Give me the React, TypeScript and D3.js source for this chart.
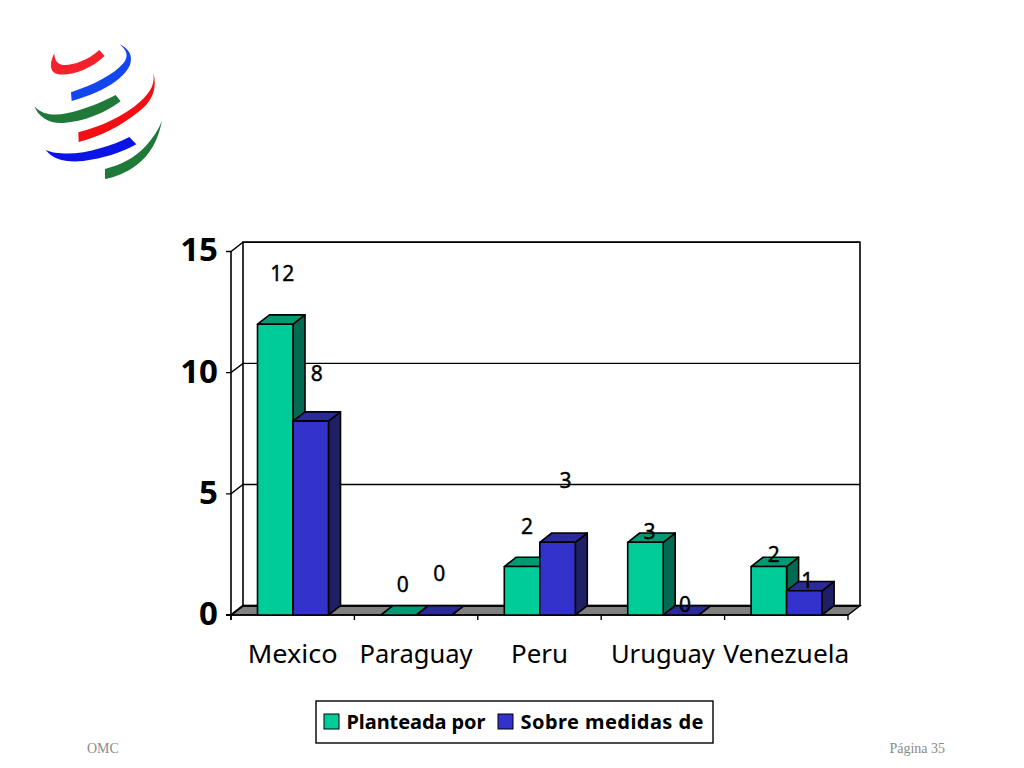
import { useEffect, useRef } from 'react';
import * as d3 from 'd3';

const countries = ['Mexico', 'Paraguay', 'Peru', 'Uruguay', 'Venezuela'];
const seriesNames = ['Planteada por', 'Sobre medidas de'];
const planteada = [12, 0, 2, 3, 2];
const sobreMedidas = [8, 0, 3, 0, 1];
const yTicks = [0, 5, 10, 15];

// hand placed labels in the original, offset from the top of each bar
const labelNudgeX = [[7, 6], [4, 5], [5, 8], [4, 4], [5, 3]];
const labelNudgeY = [[-51, -48], [-31, -42], [-40, -62], [-11, -11], [-12, -10]];
// the fallback font runs narrower than the original, so stretch to fit
const countryLabelWidths = [90, 113, 57, 104, 126];

const seriesStyle = [
  { front: '#00CC99', top: '#009973', side: '#006B50' },
  { front: '#3333CC', top: '#2A2A99', side: '#1F1F66' },
];

// logo crescents, traced in a 160x160 box scaled 3x
const logo = [
  { fill: '#F5222D', d: 'M103,70 C90,95 88,120 105,130 C135,142 205,125 254,78 L238,60 C200,95 150,108 125,104 C108,100 103,85 103,70Z' },
  { fill: '#1446F0', d: 'M298,42 C325,55 340,75 330,105 C310,150 240,190 155,213 L153,187 C220,165 280,135 310,100 C328,78 320,60 298,42Z' },
  { fill: '#1F7A3A', d: 'M43,228 C65,255 105,258 140,250 C195,238 250,215 287,195 L302,214 C255,250 190,275 130,279 C90,282 55,262 43,228Z' },
  { fill: '#F20F14', d: 'M400,127 C412,175 400,215 350,250 C300,290 240,320 176,336 L175,307 C240,290 310,260 360,215 C395,185 405,160 400,127Z' },
  { fill: '#0A14E6', d: 'M77,360 C110,375 180,375 240,355 C275,345 305,333 328,321 L349,343 C300,370 250,385 190,393 C140,398 100,390 77,360Z' },
  { fill: '#1F7A3A', d: 'M426,272 C415,330 390,375 350,405 C320,428 285,442 255,447 L255,417 C300,405 345,385 380,345 C400,322 415,300 426,272Z' },
];

const font = '"Comic Sans MS", "Noto Sans", sans-serif';

export default function App() {
  const svgRef = useRef<SVGSVGElement>(null);

  useEffect(() => {
    if (!svgRef.current) return;
    const svg = d3.select(svgRef.current);
    svg.selectAll('*').remove();

    const left = 231;
    const right = 848;
    const depthX = 12;
    const depthY = -9.3;

    const x = d3.scaleBand<string>().domain(countries).range([left, right]);
    const xSeries = d3.scaleBand<string>().domain(seriesNames).range([26.5, 97.5]);
    const y = d3.scaleLinear().domain([0, 15]).range([615, 251.5]);
    const values = [planteada, sobreMedidas];

    svg.append('g')
      .attr('transform', 'translate(20,30) scale(0.3333)')
      .selectAll('path')
      .data(logo)
      .join('path')
      .attr('d', d => d.d)
      .attr('fill', d => d.fill);

    // floor
    svg.append('polygon')
      .attr('points', [
        [left, y(0)],
        [left + depthX, y(0) + depthY],
        [right + depthX, y(0) + depthY],
        [right, y(0)],
      ].join(' '))
      .attr('fill', '#808080')
      .attr('stroke', '#000')
      .attr('stroke-width', 1.4);

    // back wall and gridlines
    svg.append('rect')
      .attr('x', left + depthX)
      .attr('y', y(15) + depthY)
      .attr('width', right - left)
      .attr('height', y(0) - y(15))
      .attr('fill', 'none')
      .attr('stroke', '#000')
      .attr('stroke-width', 1.6);

    yTicks.forEach(t => {
      const p = d3.path();
      p.moveTo(left - 5, y(t));
      p.lineTo(left, y(t));
      p.lineTo(left + depthX, y(t) + depthY);
      p.lineTo(right + depthX, y(t) + depthY);
      svg.append('path')
        .attr('d', p.toString())
        .attr('fill', 'none')
        .attr('stroke', '#000')
        .attr('stroke-width', t === 0 ? 2 : 1.4);

      svg.append('text')
        .attr('x', 218)
        .attr('y', y(t) - 2)
        .attr('dy', '0.36em')
        .attr('text-anchor', 'end')
        .attr('font-family', font)
        .attr('font-weight', 'bold')
        .attr('font-size', 33)
        .text(t);
    });

    // front axis lines
    svg.append('line')
      .attr('x1', left).attr('x2', left)
      .attr('y1', y(15)).attr('y2', y(0) + 5)
      .attr('stroke', '#000').attr('stroke-width', 1.6);
    svg.append('line')
      .attr('x1', left).attr('x2', right)
      .attr('y1', y(0)).attr('y2', y(0))
      .attr('stroke', '#000').attr('stroke-width', 1.6);

    const xTickPositions = [...countries.map(c => x(c)!), right];
    xTickPositions.forEach(px => {
      svg.append('line')
        .attr('x1', px).attr('x2', px)
        .attr('y1', y(0)).attr('y2', y(0) + 5)
        .attr('stroke', '#000').attr('stroke-width', 1.4);
    });

    countries.forEach((c, i) => {
      svg.append('text')
        .attr('x', x(c)! + x.bandwidth() / 2)
        .attr('y', 663)
        .attr('text-anchor', 'middle')
        .attr('font-family', font)
        .attr('font-size', 26)
        .attr('textLength', countryLabelWidths[i])
        .attr('lengthAdjust', 'spacingAndGlyphs')
        .text(c);

      seriesNames.forEach((s, j) => {
        const v = values[j][i];
        const bx = x(c)! + xSeries(s)!;
        const bw = xSeries.bandwidth();
        const top = y(v);
        const base = y(0);
        const st = seriesStyle[j];
        const g = svg.append('g')
          .attr('stroke', '#000')
          .attr('stroke-width', 1.6)
          .attr('stroke-linejoin', 'round');

        g.append('polygon')
          .attr('points', [
            [bx + bw, top],
            [bx + bw + depthX, top + depthY],
            [bx + bw + depthX, base + depthY],
            [bx + bw, base],
          ].join(' '))
          .attr('fill', st.side);
        g.append('polygon')
          .attr('points', [
            [bx, top],
            [bx + depthX, top + depthY],
            [bx + bw + depthX, top + depthY],
            [bx + bw, top],
          ].join(' '))
          .attr('fill', st.top);
        if (v > 0) {
          g.append('rect')
            .attr('x', bx)
            .attr('y', top)
            .attr('width', bw)
            .attr('height', base - top)
            .attr('fill', st.front);
        }
      });
    });

    // data labels go on last, some sit over the bars
    countries.forEach((c, i) => {
      seriesNames.forEach((s, j) => {
        const v = values[j][i];
        svg.append('text')
          .attr('x', x(c)! + xSeries(s)! + xSeries.bandwidth() / 2 + labelNudgeX[i][j])
          .attr('y', y(v) + labelNudgeY[i][j])
          .attr('dy', '0.36em')
          .attr('text-anchor', 'middle')
          .attr('font-family', font)
          .attr('font-size', 21)
          .attr('stroke', '#000')
          .attr('stroke-width', 0.4)
          .text(v);
      });
    });

    // legend
    svg.append('rect')
      .attr('x', 316)
      .attr('y', 701)
      .attr('width', 397)
      .attr('height', 42)
      .attr('fill', '#fff')
      .attr('stroke', '#000')
      .attr('stroke-width', 1.4);

    const legendX = d3.scaleOrdinal<string, number>().domain(seriesNames).range([324, 498]);
    const legendLen = d3.scaleOrdinal<string, number>().domain(seriesNames).range([139, 183]);
    seriesNames.forEach((s, j) => {
      svg.append('rect')
        .attr('x', legendX(s))
        .attr('y', 714)
        .attr('width', 15)
        .attr('height', 15)
        .attr('fill', seriesStyle[j].front)
        .attr('stroke', '#000')
        .attr('stroke-width', 1);
      svg.append('text')
        .attr('x', legendX(s) + 22.5)
        .attr('y', 729)
        .attr('font-family', font)
        .attr('font-weight', 'bold')
        .attr('font-size', 20)
        .attr('textLength', legendLen(s))
        .attr('lengthAdjust', 'spacing')
        .text(s);
    });

    // footer
    svg.append('text')
      .attr('x', 87)
      .attr('y', 753)
      .attr('font-family', '"Liberation Serif", serif')
      .attr('font-size', 14)
      .attr('fill', '#8A8A8A')
      .text('OMC');
    svg.append('text')
      .attr('x', 945)
      .attr('y', 753)
      .attr('text-anchor', 'end')
      .attr('font-family', '"Liberation Serif", serif')
      .attr('font-size', 14)
      .attr('fill', '#8A8A8A')
      .text('Página 35');
  }, []);

  return (
    <svg
      ref={svgRef}
      width={1024}
      height={768}
      style={{ position: 'absolute', left: 0, top: 0, background: '#fff' }}
    />
  );
}
